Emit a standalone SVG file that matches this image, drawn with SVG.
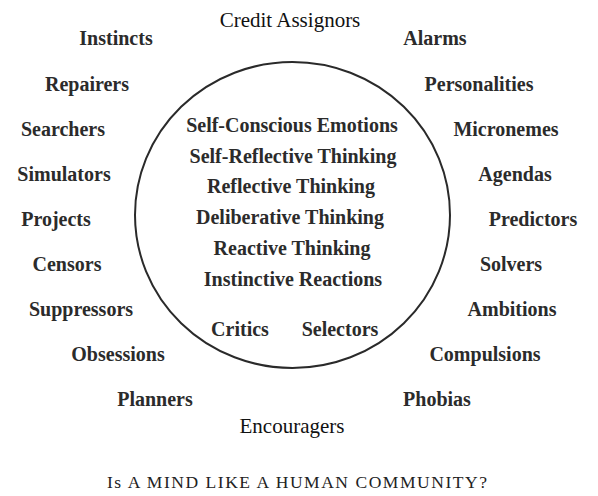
<svg xmlns="http://www.w3.org/2000/svg" width="598" height="496" viewBox="0 0 598 496">
<style>
.b{font-family:"Liberation Serif","Times New Roman",serif;font-weight:bold;font-size:20px;fill:#2b2b2b;text-anchor:middle}
.r{font-family:"Liberation Serif","Times New Roman",serif;font-size:21px;fill:#111;text-anchor:middle}
.cap{font-family:"Liberation Serif","Times New Roman",serif;font-size:17.5px;fill:#222}
</style>
<rect width="598" height="496" fill="#fff"/>
<g id="connectors"></g>
<g id="mind">
<ellipse cx="292.5" cy="215" rx="157.5" ry="153" fill="none" stroke="#2a2a2a" stroke-width="2"/>
<text class="b" x="292" y="132">Self-Conscious Emotions</text>
<text class="b" x="293" y="163">Self-Reflective Thinking</text>
<text class="b" x="291" y="193">Reflective Thinking</text>
<text class="b" x="290" y="224">Deliberative Thinking</text>
<text class="b" x="292" y="255">Reactive Thinking</text>
<text class="b" x="293" y="286">Instinctive Reactions</text>
<text class="b" x="240" y="336">Critics</text>
<text class="b" x="340" y="336">Selectors</text>
</g>
<g id="top"><text class="r" x="290" y="27">Credit Assignors</text></g>
<g id="bottom"><text class="r" x="292" y="433">Encouragers</text></g>
<g id="left">
<text class="b" x="116" y="45">Instincts</text>
<text class="b" x="87" y="91">Repairers</text>
<text class="b" x="63" y="136">Searchers</text>
<text class="b" x="64" y="181">Simulators</text>
<text class="b" x="56" y="226">Projects</text>
<text class="b" x="67" y="271">Censors</text>
<text class="b" x="81" y="316">Suppressors</text>
<text class="b" x="118" y="361">Obsessions</text>
<text class="b" x="155" y="406">Planners</text>
</g>
<g id="right">
<text class="b" x="435" y="45">Alarms</text>
<text class="b" x="479" y="91">Personalities</text>
<text class="b" x="506" y="136">Micronemes</text>
<text class="b" x="515" y="181">Agendas</text>
<text class="b" x="533" y="226">Predictors</text>
<text class="b" x="511" y="271">Solvers</text>
<text class="b" x="512" y="316">Ambitions</text>
<text class="b" x="485" y="361">Compulsions</text>
<text class="b" x="437" y="406">Phobias</text>
</g>
<g id="caption"><text class="cap" x="107" y="488" textLength="380" lengthAdjust="spacing">Is A MIND LIKE A HUMAN COMMUNITY?</text></g>
</svg>
